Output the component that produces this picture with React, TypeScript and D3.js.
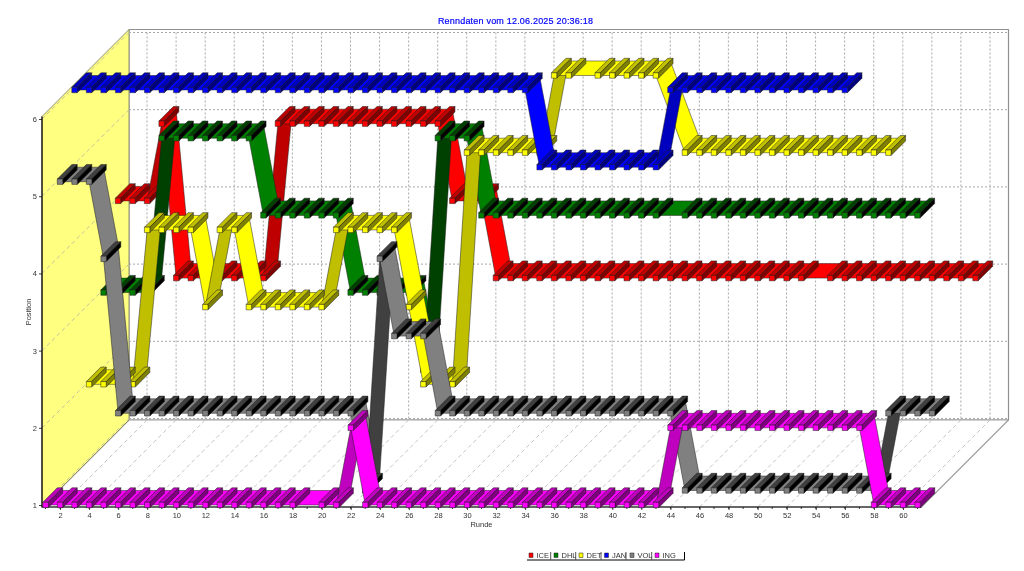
import * as d3 from 'd3';
import React, { useRef, useEffect } from 'react';

const WIDTH = 1024;
const HEIGHT = 571;

const title = "Renndaten vom 12.06.2025 20:36:18";
const xTicks = d3.range(2, 61, 2);
const xMinorTicks = d3.range(1, 62);
const yTicks = [1, 2, 3, 4, 5, 6];

// position per round, index 0 = round 1, null = round not recorded
const ice = [4,4,4,5,3,3,3,3,3,3,3,5,5,5,5,5,5,5,5,5,5,5,5,4,4,4,
    3,3,3,3,3,3,3,3,3,3,3,3,3,3,3,3,3,3,3,3,3,3,null,3,3,3,3,3,3,3,3,3,3,3];
const dhl = [3,3,3,3,5,5,5,5,5,5,5,4,4,4,4,4,4,3,3,3,3,3,2,5,5,5,
    4,4,4,4,4,4,4,4,4,4,4,4,4,null,4,4,4,4,4,4,4,4,4,4,4,4,4,4,4,4,4];
const det = [2,2,2,2,4,4,4,4,3,4,4,3,3,3,3,3,3,4,4,4,4,4,3,2,2,2,
    5,5,5,5,5,5,6,6,null,6,6,6,6,6,null,5,5,5,5,5,5,5,5,5,5,5,5,5,5,5];
const jan = [6,6,6,6,6,6,6,6,6,6,6,6,6,6,6,6,6,6,6,6,6,6,6,6,6,6,6,6,6,6,6,6,
    5,5,5,5,5,5,5,5,5,6,6,6,6,6,6,6,6,6,6,6,6,6];
const vol = [5,5,5,4,2,2,2,2,2,2,2,2,2,2,2,2,2,2,2,2,2,1,4,3,3,3,
    2,2,2,2,2,2,2,2,2,2,2,2,2,2,2,2,2,1,1,1,1,1,1,1,1,1,1,1,1,1,1,2,2,2,2];
const ing = [1,1,1,1,1,1,1,1,1,1,1,1,1,1,1,1,1,1,null,1,1,2,
    1,1,1,1,1,1,1,1,1,1,1,1,1,1,1,1,1,1,1,1,1,
    2,2,2,2,2,2,2,2,2,2,2,2,2,2,1,1,1,1];

const seriesNames = ["ICE", "DHL", "DET", "JAN", "VOL", "ING"];
const seriesColors = ["#ff0000", "#008000", "#ffff00", "#0000ff", "#808080", "#ff00ff"];
const seriesValues = [ice, dhl, det, jan, vol, ing];
const legendX = [531, 556, 581, 606.5, 632, 657];
const legendSeps = [550.7, 575.7, 601, 626, 651.7];

// same idea as the chart package: darken by a fixed amount
const dark = (color, amount) => {
    const c = d3.rgb(color);
    return d3.rgb(Math.max(0, c.r - amount), Math.max(0, c.g - amount), Math.max(0, c.b - amount)).formatHex();
};

function Chart() {
    const ref = useRef();

    useEffect(() => {
        const svg = d3.select(ref.current);
        svg.selectAll("*").remove();

        const x = d3.scaleLinear().domain([1, 60]).range([45.5, 903]);
        const y = d3.scaleLinear().domain([1, 6]).range([505, 119]);
        const left = 42, right = 921.5, bottom = 507, top = 116.5;
        const wall = 87;       // depth of the whole chart box
        const step = wall / 6; // depth of one series
        const line = d3.line();
        const font = "'Liberation Sans', sans-serif";
        const textColor = "#333";

        const poly = (g, pts, fill, stroke = "#202020", w = 0.5) => g.append("path")
            .attr("d", line(pts) + "Z")
            .attr("fill", fill)
            .attr("stroke", stroke)
            .attr("stroke-width", w)
            .attr("stroke-linejoin", "round");

        // walls
        const walls = svg.append("g");
        poly(walls, [[left + wall, top - wall], [right + wall, top - wall], [right + wall, bottom - wall], [left + wall, bottom - wall]], "#fff", "#909090", 1.2);
        poly(walls, [[left, bottom], [left + wall, bottom - wall], [right + wall, bottom - wall], [right, bottom]], "#fff", "#a0a0a0", 1.2);
        poly(walls, [[left, top], [left + wall, top - wall], [left + wall, bottom - wall], [left, bottom]], "#ffff80", "#909070", 1);

        // grid
        const grid = svg.append("g").attr("fill", "none").attr("stroke-width", 1);
        yTicks.forEach(t => {
            grid.append("path").attr("d", line([[left + wall, y(t) - wall + 0.5], [right + wall, y(t) - wall + 0.5]]))
                .attr("stroke", "#a8a8a8").attr("stroke-dasharray", "2,2");
            grid.append("path").attr("d", line([[left, y(t)], [left + wall, y(t) - wall + 0.5]]))
                .attr("stroke", "#c0c0a0").attr("stroke-dasharray", "4,3");
        });
        xTicks.forEach(t => {
            grid.append("path").attr("d", line([[x(t) + wall, top - wall + 3], [x(t) + wall, bottom - wall]]))
                .attr("stroke", "#a8a8a8").attr("stroke-dasharray", "2,2");
            grid.append("path").attr("d", line([[x(t), bottom], [x(t) + wall, bottom - wall]]))
                .attr("stroke", "#c4c4c4").attr("stroke-dasharray", "4,3");
        });

        // axes
        const xAxis = svg.append("g")
            .attr("transform", `translate(0,${bottom})`)
            .call(d3.axisBottom(x).tickValues(xTicks).tickSize(3).tickPadding(3).tickFormat(d3.format("d")));
        xAxis.select(".domain").remove();
        xAxis.selectAll("text").attr("font-family", font).attr("font-size", 7.5).attr("fill", textColor);
        xAxis.selectAll("line").attr("stroke", "#404040");
        const minor = svg.append("g").attr("stroke", "#404040");
        xMinorTicks.forEach(t => {
            minor.append("line").attr("x1", x(t)).attr("x2", x(t)).attr("y1", bottom).attr("y2", bottom + 2);
        });
        const yAxis = svg.append("g")
            .attr("transform", `translate(${left},0)`)
            .call(d3.axisLeft(y).tickValues(yTicks).tickSize(3).tickPadding(2).tickFormat(d3.format("d")));
        yAxis.select(".domain").remove();
        yAxis.selectAll("text").attr("font-family", font).attr("font-size", 7.5).attr("fill", textColor);
        yAxis.selectAll("line").attr("stroke", "#404040");
        svg.append("path").attr("d", line([[left, top], [left, bottom], [right, bottom]]))
            .attr("fill", "none").attr("stroke", "#000").attr("stroke-width", 1.2);

        // series, back to front
        seriesValues.forEach((values, s) => {
            const k = seriesValues.length - 1 - s;
            const off = k * step;
            const color = seriesColors[s];
            const pts = values
                .map((v, i) => ({ v, r: i + 1 }))
                .filter(d => d.v !== null)
                .map(d => [x(d.r) + off, y(d.v) - off]);
            const g = svg.append("g");

            // ribbon between points, lit by direction of travel
            d3.pairs(pts).forEach(([a, b]) => {
                const fill = b[1] < a[1] ? dark(color, 64) : color;
                poly(g, [a, b, [b[0] + step, b[1] - step], [a[0] + step, a[1] - step]], fill);
            });

            // 3d pointers
            const h = 2.7;
            pts.forEach(([px, py]) => {
                poly(g, [[px - h, py - h], [px + h, py - h], [px + h + step, py - h - step], [px - h + step, py - h - step]], dark(color, 64));
                poly(g, [[px + h, py - h], [px + h, py + h], [px + h + step, py + h - step], [px + h + step, py - h - step]], dark(color, 128));
                poly(g, [[px - h, py - h], [px + h, py - h], [px + h, py + h], [px - h, py + h]], color);
            });
        });

        // titles
        svg.append("text").attr("x", 515.5).attr("y", 24).attr("text-anchor", "middle")
            .attr("font-family", font).attr("font-size", 9).attr("letter-spacing", 0.2)
            .attr("stroke", "#0000ff").attr("stroke-width", 0.2)
            .attr("fill", "#0000ff").text(title);
        svg.append("text").attr("x", 481.5).attr("y", 527).attr("text-anchor", "middle")
            .attr("font-family", font).attr("font-size", 7.5).attr("fill", textColor).text("Runde");
        svg.append("text").attr("transform", "translate(31,312) rotate(-90)").attr("text-anchor", "middle")
            .attr("font-family", font).attr("font-size", 7.5).attr("fill", textColor).text("Position");

        // legend
        const legend = svg.append("g");
        legend.append("path").attr("d", line([[527, 560], [684.5, 560], [684.5, 552]]))
            .attr("fill", "none").attr("stroke", "#000").attr("stroke-width", 1);
        legendSeps.forEach(sx => {
            legend.append("path").attr("d", line([[sx, 552], [sx, 560]])).attr("stroke", "#555").attr("fill", "none");
        });
        seriesNames.forEach((name, i) => {
            poly(legend, [[legendX[i] - 2, 553], [legendX[i] + 2, 553], [legendX[i] + 2, 557.5], [legendX[i] - 2, 557.5]], seriesColors[i]);
            legend.append("text").attr("x", legendX[i] + 5.5).attr("y", 558)
                .attr("font-family", font).attr("font-size", 7.5).attr("fill", textColor).text(name);
        });
    }, []);

    // the source is a slightly soft downscaled screenshot
    return <svg ref={ref} width={WIDTH} height={HEIGHT} style={{ position: "absolute", left: 0, top: 0, filter: "blur(0.4px)" }} />;
}

export default function App() {
    return <Chart />;
}
